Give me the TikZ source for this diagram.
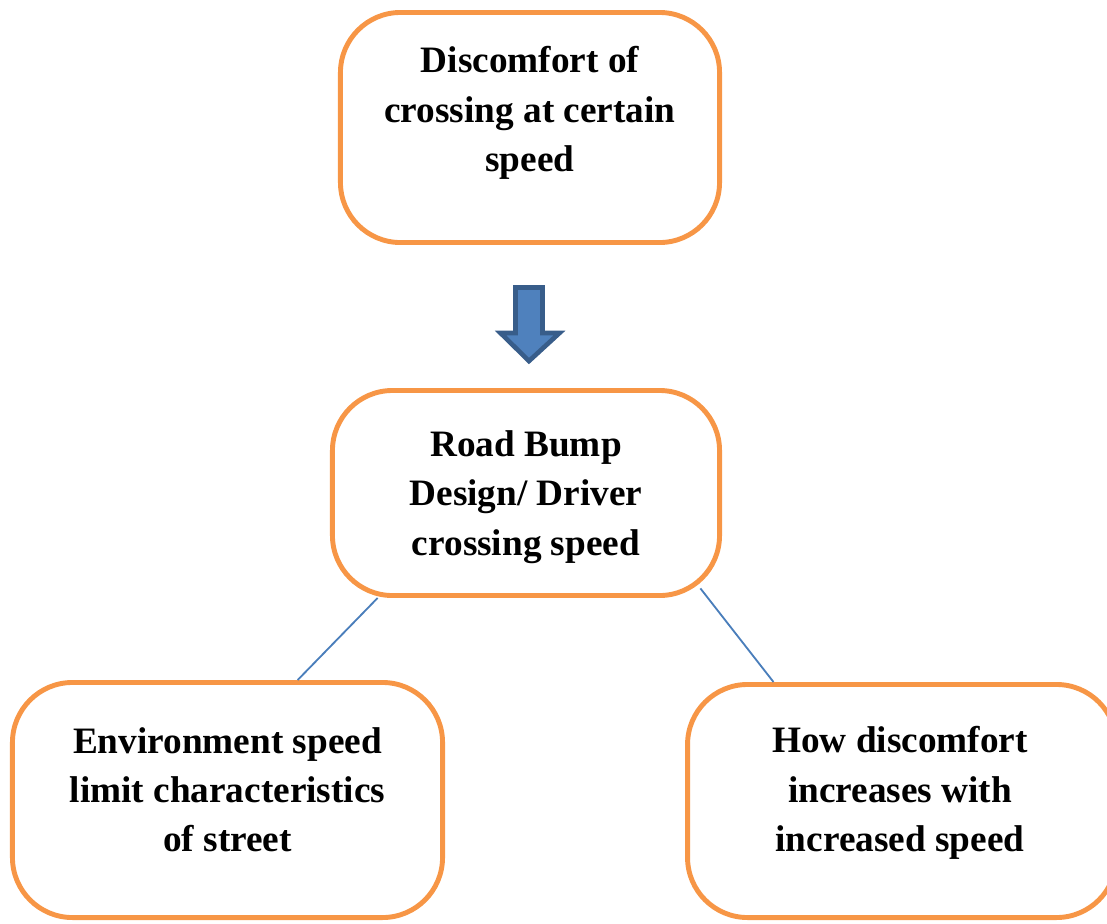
\documentclass[tikz,border=0pt]{standalone}
\usepackage{fontspec}
\setmainfont{Liberation Serif}
\definecolor{boxorange}{HTML}{F79646}
\definecolor{linkblue}{HTML}{4A7EBB}
\definecolor{arrowfill}{HTML}{4F81BD}
\definecolor{arrowedge}{HTML}{385D8A}

\tikzset{
  box/.style={draw=boxorange, line width=3.5pt, rounded corners=1.5cm, fill=white},
  boxtext/.style={align=center, font=\bfseries\fontsize{26.5}{35}\selectfont},
  link/.style={draw=linkblue, line width=1.3pt},
  blockarrow/.style={fill=arrowfill, draw=arrowedge, line width=3.3pt, line join=miter}
}

\begin{document}
\begin{tikzpicture}[x=0.025cm, y=-0.025cm]
  \useasboundingbox (0,0) rectangle (1107,923);
  \node [box, minimum width=9.475cm, minimum height=5.75cm] (discomfort) at (530,127.5) {};
  \node [box, minimum width=9.675cm, minimum height=5.125cm] (design) at (526,493) {};
  \node [box, minimum width=10.75cm, minimum height=5.875cm] (environment) at (227.5,800) {};
  \node [box, minimum width=10.72cm, minimum height=5.825cm] (increase) at (902,801) {};

  \node [boxtext] (discomfort text) at (530,113) {Discomfort of\\crossing at certain\\speed};
  \node [boxtext] (design text) at (526,497) {Road Bump\\Design/ Driver\\crossing speed};
  \node [boxtext] (environment text) at (227.5,790) {Environment speed\\limit characteristics\\of street};
  \node [boxtext] (increase text) at (900,793) {How discomfort\\increases with\\increased speed};

  \draw [blockarrow] (515.5,287.5) -- (542.5,287.5) -- (542.5,333) -- (559.5,333)
    -- (529,361) -- (500.5,333) -- (515.5,333) -- cycle;

  \path [link]
    ([xshift=1.19cm]design.south west) -- ([xshift=7.19cm]environment.north west)
    ([xshift=-0.54cm, yshift=0.24cm]design.south east) -- ([xshift=2.21cm]increase.north west);
\end{tikzpicture}
\end{document}
